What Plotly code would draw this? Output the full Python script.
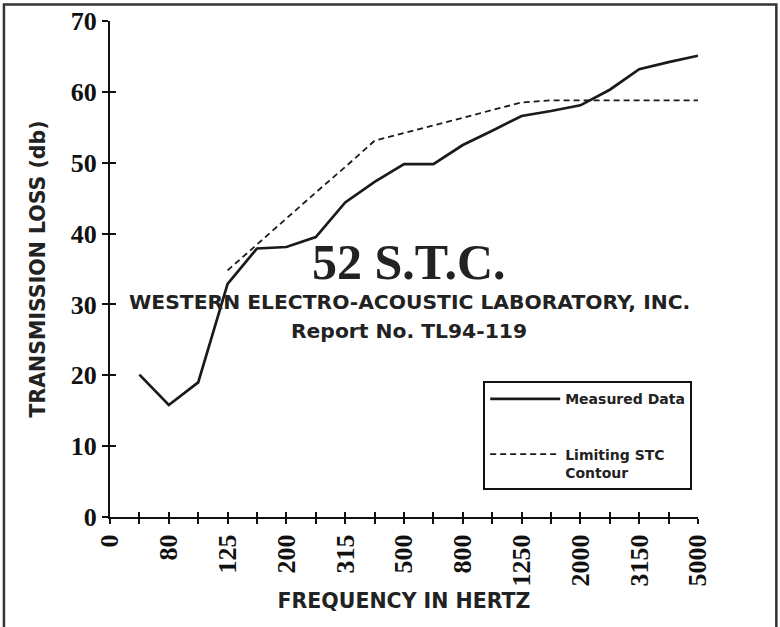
import plotly.graph_objects as go

# ---- data ----
band_labels = ["63", "80", "100", "125", "160", "200", "250", "315", "400", "500",
               "630", "800", "1000", "1250", "1600", "2000", "2500", "3150", "4000", "5000"]
band_pos = list(range(1, 21))
measured = [20.1, 15.8, 19.0, 32.9, 37.9, 38.1, 39.5, 44.4, 47.3, 49.8,
            49.8, 52.5, 54.5, 56.6, 57.3, 58.1, 60.3, 63.2, 64.2, 65.1]
stc_pos = list(range(4, 21))
stc_contour = [34.8, 38.5, 42.1, 45.8, 49.4, 53.1, 54.2, 55.3, 56.4, 57.5,
               58.5, 58.8, 58.8, 58.8, 58.8, 58.8, 58.8]
tick_pos = list(range(0, 21))
tick_text = ["0", "", "80", "", "125", "", "200", "", "315", "", "500", "",
             "800", "", "1250", "", "2000", "", "3150", "", "5000"]
y_ticks = [0, 10, 20, 30, 40, 50, 60, 70]

W, H = 780, 627
L, R, T, B = 110, 82.3, 20.5, 110.2
pw, ph = W - L - R, H - T - B

def px(x):
    return (x - L) / pw

def py(y):
    return (H - B - y) / ph

serif_b = dict(family="Liberation Serif", size=26, color="#111", weight="bold")
sans_b = dict(family="DejaVu Sans", size=20.5, color="#222", weight="bold")

fig = go.Figure()
fig.add_trace(go.Scatter(x=band_pos, y=measured, mode="lines", name="Measured Data",
                         legendgroup="a",
                         line=dict(color="#1a1a1a", width=2.7)))
fig.add_trace(go.Scatter(x=stc_pos, y=stc_contour, mode="lines",
                         name="Limiting STC<br>Contour", legendgroup="b",
                         line=dict(color="#1a1a1a", width=1.8, dash="6px,4px")))
# helper trace so the overlay axes (inside half of crossing ticks) are drawn
fig.add_trace(go.Scatter(x=[None], y=[None], xaxis="x2", yaxis="y2",
                         showlegend=False, hoverinfo="skip"))

axis_common = dict(showgrid=False, zeroline=False, showline=True,
                   linecolor="#111", linewidth=2, tickcolor="#111", tickwidth=2)

fig.update_layout(
    width=W, height=H, autosize=False,
    margin=dict(l=L, r=R, t=T, b=B, autoexpand=False),
    paper_bgcolor="white", plot_bgcolor="white",
    xaxis=dict(range=[0, 20], tickmode="array", tickvals=tick_pos, ticktext=tick_text,
               tickangle=-90, ticks="outside", ticklen=5, tickfont=serif_b,
               title=dict(text="FREQUENCY IN HERTZ", font=sans_b, standoff=8),
               **axis_common),
    yaxis=dict(range=[0, 70], tickmode="array", tickvals=y_ticks, ticks="outside",
               ticklen=6, tickfont=serif_b,
               title=dict(text="TRANSMISSION LOSS (db)", font=sans_b, standoff=20),
               **axis_common),
    xaxis2=dict(range=[0, 20], overlaying="x", anchor="y", tickmode="array",
                tickvals=tick_pos, ticks="inside", ticklen=5, showticklabels=False,
                **axis_common),
    yaxis2=dict(range=[0, 70], overlaying="y", anchor="x", tickmode="array",
                tickvals=y_ticks, ticks="inside", ticklen=6, showticklabels=False,
                **axis_common),
    showlegend=True,
    legend=dict(x=px(483), y=py(381), xanchor="left", yanchor="top",
                bgcolor="white", bordercolor="#111", borderwidth=2,
                font=dict(family="DejaVu Sans", size=14, color="#222", weight="bold"),
                itemwidth=70, tracegroupgap=34, entrywidth=200,
                traceorder="grouped", valign="top"),
    shapes=[dict(type="rect", xref="paper", yref="paper",
                 x0=px(4), x1=px(776), y0=py(630), y1=py(4),
                 line=dict(color="#333", width=2.5))],
    annotations=[
        dict(text="52 S.T.C.", xref="paper", yref="paper", x=px(409), y=py(262),
             showarrow=False,
             font=dict(family="Liberation Serif", size=50, color="#222", weight="bold")),
        dict(text="WESTERN ELECTRO-ACOUSTIC LABORATORY, INC.", xref="paper", yref="paper",
             x=px(409), y=py(302), showarrow=False,
             font=dict(family="DejaVu Sans", size=20.3, color="#222", weight="bold")),
        dict(text="Report No. TL94-119", xref="paper", yref="paper",
             x=px(409), y=py(331), showarrow=False,
             font=dict(family="DejaVu Sans", size=20.3, color="#222", weight="bold")),
    ],
)

fig.write_html("out.html", config={"displayModeBar": False},
               post_script="document.body.style.margin='0';")
